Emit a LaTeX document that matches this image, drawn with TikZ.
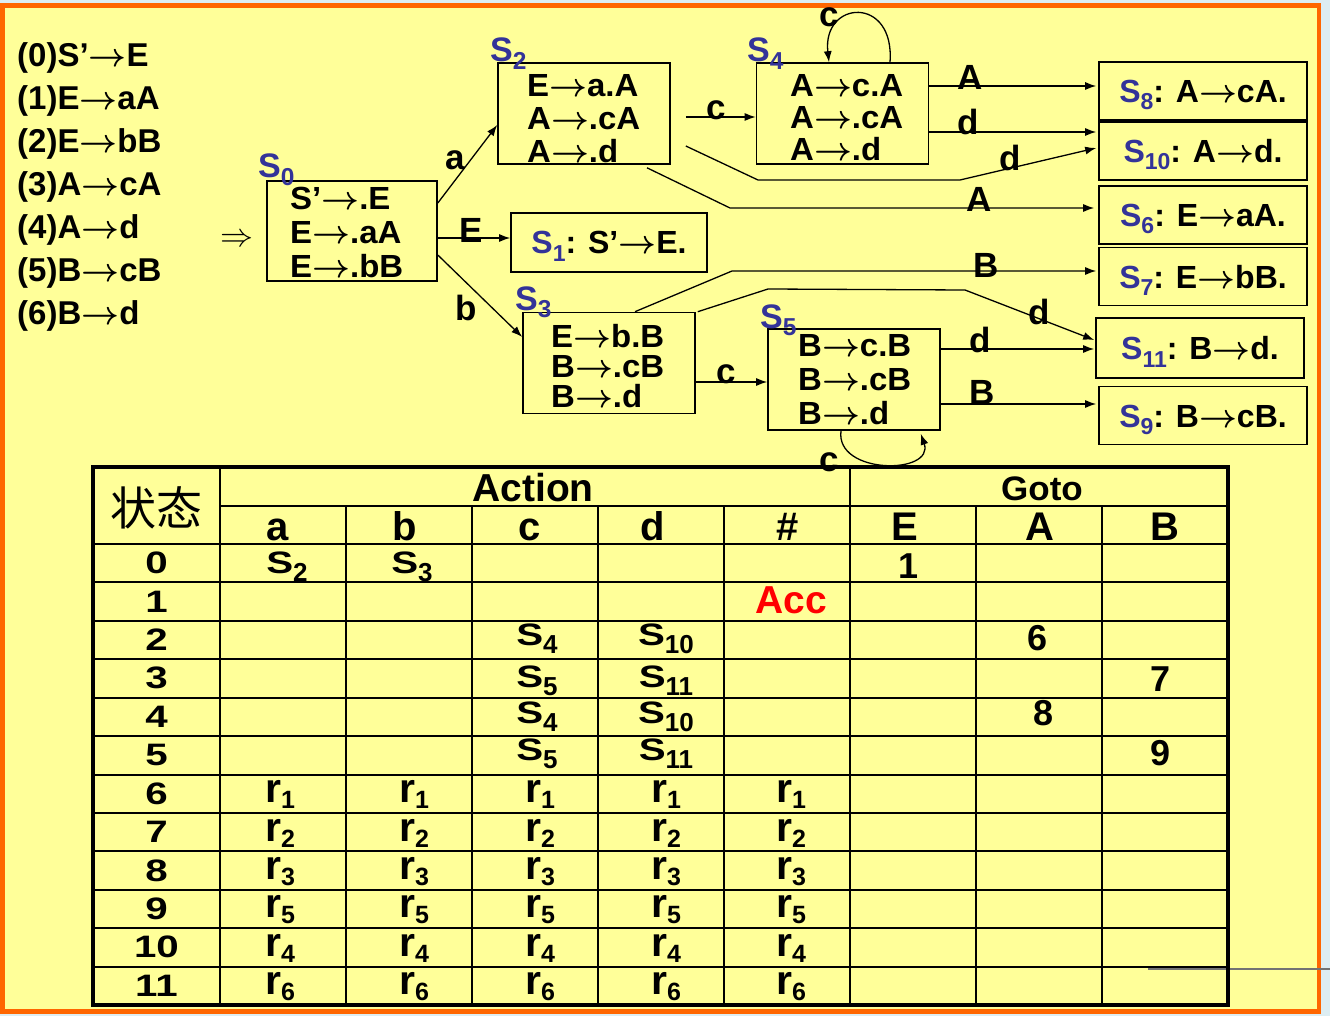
\documentclass[tikz,border=0pt]{standalone}
\usepackage{fontspec}
\setmainfont{Liberation Sans}
\newfontfamily\itemfont[FakeStretch=1.03]{Liberation Sans}
\newfontfamily\cellfont[FakeStretch=1.3]{Liberation Sans}
\newfontfamily\cjk{Noto Sans CJK SC}
\usepackage{graphicx}
\usetikzlibrary{arrows.meta, calc}
\definecolor{slideyellow}{RGB}{255,255,153}
\definecolor{slideorange}{RGB}{255,102,0}
\definecolor{slidebg}{RGB}{221,237,242}
\definecolor{stateblue}{RGB}{51,51,153}
\definecolor{accred}{RGB}{255,0,0}
\newcommand{\fs}[1]{\fontsize{#1}{#1}\selectfont}
\newcommand{\pto}{\scalebox{3.3}{\fs{10}\boldmath$\rightarrow$}}
\newcommand{\subs}[1]{\raisebox{-7.5pt}{\scalebox{0.72}{#1}}}
\newcommand{\tabS}[1]{{\cellfont\fs{31}S}\raisebox{-8pt}{\fs{26}#1}}
\newcommand{\tabR}[1]{{\fs{41}r}\raisebox{-6pt}{\fs{25}#1}}

\begin{document}
\begin{tikzpicture}[x=1pt, y=-1pt,
  every node/.style={inner sep=0pt, font=\bfseries},
  state/.style={draw, line width=1.6pt, fill=slideyellow, minimum width=172pt, minimum height=101pt},
  final/.style={state, minimum width=208pt, minimum height=58pt, text height=23pt, text depth=0pt, font=\bfseries\fs{32}},
  items/.style={anchor=north west, align=left, font=\itemfont\bfseries\fontsize{32}{#1}\selectfont},
  sname/.style={anchor=base west, text=stateblue, font=\bfseries\fs{34}},
  lbl/.style={font=\bfseries\fs{35}},
  arr/.style={-{Latex[length=11pt, width=8pt]}, line width=1.3pt},
  tabline/.style={line width=2pt},
  cell/.style={anchor=base}
]
  \useasboundingbox (0,0) rectangle (1330,1016);
  % Slide
  \fill[slidebg] (0,0) rectangle (1330,1016);
  \draw[slideorange, line width=4.5pt, fill=slideyellow] (2.5,5.3) rectangle (1319,1011.5);
  \draw[black!55, line width=1.5pt] (1148,969) -- (1330,969);

  % Grammar
  \node[anchor=north west, align=left, font=\bfseries\fontsize{33}{43}\selectfont] (gram) at (17,42)
    {(0)S’\pto E\\(1)E\pto aA\\(2)E\pto bB\\(3)A\pto cA\\(4)A\pto d\\(5)B\pto cB\\(6)B\pto d};
  \node (start) at (237,240) {\scalebox{3.3}{\fs{10}$\Rightarrow$}};

  % Item sets
  \node[state, minimum width=170pt, minimum height=100pt] (s0) at (352,231) {};
  \node[state] (s2) at (584,113.5) {};
  \node[state] (s4) at (842.5,113.5) {};
  \node[state] (s3) at (609,363) {};
  \node[state] (s5) at (854,379.5) {};
  \node[items=34] (s0t) at (290,187) {S’\pto .E\\E\pto .aA\\E\pto .bB};
  \node[items=33] (s2t) at (527,74) {E\pto a.A\\A\pto .cA\\A\pto .d};
  \node[items=32] (s4t) at (790,74) {A\pto c.A\\A\pto .cA\\A\pto .d};
  \node[items=30] (s3t) at (551,324) {E\pto b.B\\B\pto .cB\\B\pto .d};
  \node[items=34] (s5t) at (798,334) {B\pto c.B\\B\pto .cB\\B\pto .d};
  \node[sname] (n0) at (258,178) {S\subs{0}};
  \node[sname] (n2) at (490,62) {S\subs{2}};
  \node[sname] (n4) at (747,62) {S\subs{4}};
  \node[sname] (n3) at (515,310) {S\subs{3}};
  \node[sname] (n5) at (760,328) {S\subs{5}};

  % Complete items
  \node[final, minimum width=196pt, minimum height=59pt] (s1) at (609,242.5) {\textcolor{stateblue}{S\subs{1}}: S’\pto E.};
  \node[final] (s8) at (1203,91) {\textcolor{stateblue}{S\subs{8}}: A\pto cA.};
  \node[final] (s10) at (1203,151) {\textcolor{stateblue}{S\subs{10}}: A\pto d.};
  \node[final] (s6) at (1203,215) {\textcolor{stateblue}{S\subs{6}}: E\pto aA.};
  \node[final] (s7) at (1203,276.5) {\textcolor{stateblue}{S\subs{7}}: E\pto bB.};
  \node[final, minimum height=60pt] (s11) at (1200,348) {\textcolor{stateblue}{S\subs{11}}: B\pto d.};
  \node[final] (s9) at (1203,415.5) {\textcolor{stateblue}{S\subs{9}}: B\pto cB.};

  % Transitions
  \draw[arr] ($(s0.east)+(0,-28)$) -- ($(s2.west)+(0,11.5)$);
  \draw[arr] ($(s0.east)+(0,7)$) -- ($(s1.west)+(0,-4.5)$);
  \draw[arr] ($(s0.east)+(0,24)$) -- ($(s3.west)+(0,-26)$);
  \draw[arr] ($(s2.east)+(15,3.5)$) -- ($(s4.west)+(0,3.5)$);
  \draw[arr] ($(s2.east)+(15,32.5)$) -- (758,180) -- (960,180) -- ($(s10.west)+(-2,-3)$);
  \draw[arr] ($(s2.south)+(63,3)$) -- (730,208) -- ($(s6.west)+(-4,-7)$);
  \draw[arr] ($(s4.east)+(0,-27.5)$) -- ($(s8.west)+(-2,-5)$);
  \draw[arr] ($(s4.east)+(0,18.5)$) -- ($(s10.west)+(-2,-19)$);
  \draw[arr] ($(s4.north)+(47.5,0)$) .. controls (895,-5) and (822,0) .. ($(s4.north)+(-13.5,0)$);
  \draw[arr] ($(s3.east)+(0,19)$) -- ($(s5.west)+(0,2.5)$);
  \draw[arr] ($(s3.north)+(26,0)$) -- (732,271) -- ($(s7.west)+(-2,-5.5)$);
  \draw[arr] ($(s3.north east)+(2,0)$) -- (768,289) -- (965,290) -- ($(s11.west)+(-1,-8)$);
  \draw[arr] ($(s5.east)+(0,-30.5)$) -- ($(s11.west)+(-1,1)$);
  \draw[arr] ($(s5.east)+(0,24.5)$) -- ($(s9.west)+(-2,-11.5)$);
  \draw[arr] ($(s5.south)+(-13,0)$) .. controls (835,475) and (935,475) .. ($(s5.south east)+(-20,3)$);

  % Transition labels
  \node[lbl] (la) at (455,160) {a};
  \node[lbl] (lE) at (471,230) {E};
  \node[lbl] (lb) at (466,308) {b};
  \node[lbl] (lc2) at (716,110) {c};
  \node[lbl] (ld2) at (1010,158) {d};
  \node[lbl] (lA2) at (979,199) {A};
  \node[lbl] (lA4) at (970,77) {A};
  \node[lbl] (ld4) at (968,122) {d};
  \node[lbl] (lc4) at (829,17) {c};
  \node[lbl] (lc3) at (726,374) {c};
  \node[lbl] (lB3) at (986,265) {B};
  \node[lbl] (ld3) at (1039,312) {d};
  \node[lbl] (ld5) at (980,340) {d};
  \node[lbl] (lB5) at (982,392) {B};
  \node[lbl] (lc5) at (829,462) {c};

  % Parsing table
  \draw[tabline] (220,506) -- (1228,506);
  \foreach \k in {0,...,11}
    \draw[tabline] (93,{544+38.42*\k}) -- (1228,{544+38.42*\k});
  \foreach \x in {220,850}
    \draw[tabline] (\x,467) -- (\x,1005);
  \foreach \x in {346,472,598,724,976,1102}
    \draw[tabline] (\x,506) -- (\x,1005);
  \draw[line width=4pt] (93,467) rectangle (1228,1005);

  \node[font=\cjk\fs{46}] (hstate) at (156,508) {状态};
  \node[anchor=base, font=\bfseries\fs{39}] (haction) at (533,501) {Action};
  \node[anchor=base, font=\itemfont\bfseries\fs{34}] (hgoto) at (1042,500) {Goto};
  \foreach \x/\t [count=\i] in {278/a,405/b,530/c,653/d,788/\#,905/E,1040/A,1165/B}
    \node[anchor=base, font=\bfseries\fs{40}] (h\i) at (\x,540) {\t};

  \foreach \r in {0,...,11}
    \node[cell, font=\cellfont\bfseries\fs{31}] (row\r) at (156.5,{544+38.42*(\r+0.5)+10.5}) {\r};

  \foreach \x/\y/\s [count=\i] in {287/573/2, 412/573/3, 537/645/4, 666/645/10, 537/687/5,
      666/687/11, 537/723/4, 666/723/10, 537/760/5, 666/760/11}
    \node[cell] (sh\i) at (\x,\y) {\tabS{\s}};

  \foreach \r/\p in {6/1,7/2,8/3,9/5,10/4,11/6}
    \foreach \x [count=\c] in {280,414,540,666,791}
      \node[cell] (re\r-\c) at (\x,{544+38.42*(\r+0.5)+9}) {\tabR{\p}};

  \foreach \x/\y/\g in {908/578/1, 1037/650/6, 1160/691/7, 1043/725/8, 1160/765/9}
    \node[cell, font=\bfseries\fs{36}] (g\g) at (\x,\y) {\g};
  \node[cell, text=accred, font=\bfseries\fs{39}] (acc) at (791,613) {Acc};
\end{tikzpicture}
\end{document}
